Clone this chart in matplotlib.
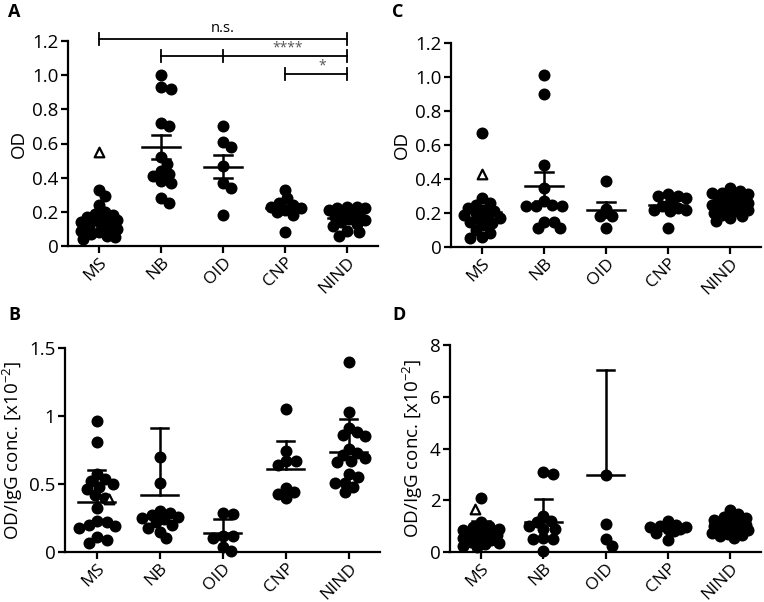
import numpy as np
import matplotlib
matplotlib.use("Agg")
from matplotlib import pyplot as plt

plt.rcParams["font.family"] = ["Open Sans", "DejaVu Sans"]
plt.rcParams["mathtext.default"] = "regular"

groups = ["MS", "NB", "OID", "CNP", "NIND"]

# panel A: OD
a_ms = [0.33, 0.29, 0.24, 0.20, 0.19, 0.18, 0.17, 0.17, 0.16, 0.15, 0.15, 0.14,
        0.13, 0.12, 0.11, 0.10, 0.09, 0.08, 0.07, 0.06, 0.05, 0.04]
a_nb = [1.00, 0.93, 0.92, 0.72, 0.70, 0.52, 0.48, 0.44, 0.42, 0.41, 0.38, 0.37,
        0.28, 0.25]
a_oid = [0.70, 0.61, 0.58, 0.47, 0.37, 0.34, 0.18]
a_cnp = [0.33, 0.28, 0.25, 0.24, 0.23, 0.22, 0.21, 0.20, 0.18, 0.08]
a_nind = [0.23, 0.23, 0.22, 0.22, 0.21, 0.20, 0.19, 0.18, 0.17, 0.16, 0.15,
          0.14, 0.13, 0.12, 0.09, 0.08, 0.06]
a_tri = 0.55
a_mean = [0.166, 0.578, 0.465, 0.224, 0.162]
a_err = [0.02, 0.07, 0.068, 0.015, 0.012]

# panel C: OD
c_ms = [0.67, 0.29, 0.26, 0.25, 0.23, 0.22, 0.21, 0.20, 0.19, 0.18, 0.17, 0.16,
        0.15, 0.14, 0.13, 0.10, 0.085, 0.06, 0.055]
c_nb = [1.01, 0.90, 0.48, 0.35, 0.27, 0.25, 0.24, 0.24, 0.24, 0.15, 0.15, 0.11,
        0.11]
c_oid = [0.39, 0.225, 0.185, 0.185, 0.11]
c_cnp = [0.31, 0.30, 0.30, 0.29, 0.26, 0.24, 0.23, 0.22, 0.22, 0.21, 0.11]
c_nind = [0.345, 0.33, 0.32, 0.32, 0.31, 0.30, 0.30, 0.29, 0.28, 0.27, 0.26,
          0.25, 0.25, 0.24, 0.23, 0.22, 0.22, 0.21, 0.20, 0.19, 0.18, 0.17,
          0.155]
c_tri = 0.43
c_mean = [0.207, 0.356, 0.219, 0.245, 0.25]
c_err = [0.02, 0.087, 0.045, 0.02, 0.012]

# panel B: OD/IgG conc.
b_ms = [0.96, 0.81, 0.57, 0.54, 0.52, 0.50, 0.48, 0.46, 0.42, 0.40, 0.32, 0.23,
        0.22, 0.20, 0.19, 0.18, 0.11, 0.09, 0.065]
b_nb = [0.70, 0.51, 0.30, 0.29, 0.27, 0.26, 0.25, 0.24, 0.22, 0.20, 0.18, 0.15,
        0.10]
b_oid = [0.29, 0.28, 0.12, 0.12, 0.10, 0.04, 0.01]
b_cnp = [1.05, 0.74, 0.67, 0.67, 0.64, 0.47, 0.44, 0.43, 0.40]
b_nind = [1.40, 1.03, 0.91, 0.88, 0.86, 0.85, 0.76, 0.73, 0.71, 0.69, 0.67,
          0.66, 0.57, 0.55, 0.51, 0.51, 0.48, 0.44]
b_tri = 0.39
b_mean = [0.369, 0.418, 0.139, 0.611, 0.738]
b_top = [0.605, 0.915, 0.245, 0.815, 0.975]

# panel D: OD/IgG conc.
d_ms = [2.1, 1.15, 1.0, 0.95, 0.9, 0.85, 0.8, 0.75, 0.7, 0.7, 0.65, 0.6, 0.55,
        0.5, 0.45, 0.4, 0.35, 0.3, 0.25, 0.2]
d_nb = [3.1, 3.0, 1.4, 1.2, 1.15, 1.0, 0.9, 0.9, 0.55, 0.5, 0.5, 0.02]
d_oid = [2.98, 1.09, 0.5, 0.22]
d_cnp = [1.2, 1.05, 1.0, 0.98, 0.95, 0.9, 0.88, 0.8, 0.75, 0.48]
d_nind = [1.62, 1.45, 1.35, 1.3, 1.25, 1.2, 1.15, 1.1, 1.1, 1.05, 1.0, 1.0,
          0.95, 0.95, 0.9, 0.9, 0.85, 0.8, 0.75, 0.7, 0.65, 0.6, 0.55]
d_tri = 1.65
d_mean = [0.76, 1.145, 2.96, 0.93, 1.02]
d_top = [1.21, 2.05, 7.03, 1.03, 1.1]

W, H = 764, 602
DOT = 12   # marker diameter, px
FS = 13.5


def swarm_x(ax, center, values, dist, max_px=19):
    """Spread points sideways (in pixels) so they pile up less."""
    pts = ax.transData.transform([(center, v) for v in values])
    xc = pts[0, 0]
    ys = pts[:, 1]
    xs = np.empty(len(values))
    placed = []
    step = 2.0
    cands = [0.0]
    k = 1
    while k * step <= max_px:
        cands += [k * step, -k * step]
        k += 1
    for i in np.argsort(-ys):
        y = ys[i]
        best, best_d = None, -1
        for c in cands:
            x = xc + c
            d = min([np.hypot(x - px, y - py) for px, py in placed] + [1e9])
            if d >= dist:
                best = x
                break
            if d > best_d + 0.5:
                best, best_d = x, d
        xs[i] = best
        placed.append((best, y))
    inv = ax.transData.inverted()
    return inv.transform(np.column_stack([xs, ys]))[:, 0]


def make_axes(left, right, top, bottom):
    ax = plt.gcf().add_axes([left / W, 1 - bottom / H, (right - left) / W,
                             (bottom - top) / H])
    for s in ("top", "right"):
        ax.spines[s].set_visible(False)
    for s in ("left", "bottom"):
        ax.spines[s].set_linewidth(1.6)
    ax.tick_params(width=1.6, length=5, labelsize=FS, pad=2)
    ax.tick_params(axis="x", labelsize=12.5, pad=1)
    ax.set_xlim(-0.5, 4.5)
    ax.set_xticks(range(5))
    ax.set_xticklabels(groups, rotation=45, ha="right",
                       rotation_mode="anchor")
    return ax


def draw_panel(ax, data, tri, tri_dx, means, lo, hi):
    for i, vals in enumerate(data):
        xs = swarm_x(ax, i, vals, DOT * 0.72)
        ax.scatter(xs, vals, s=(DOT * 0.72) ** 2, color="black", lw=0,
                   zorder=3, clip_on=False)
    ax.scatter([tri_dx], [tri], marker="^", s=48, facecolor="white",
               edgecolor="black", lw=1.6, zorder=4)
    for i in range(5):
        ax.plot([i - 0.3, i + 0.3], [means[i]] * 2, color="black", lw=1.8,
                zorder=5)
        ax.plot([i, i], [lo[i], hi[i]], color="black", lw=1.8, zorder=5)
        ax.plot([i - 0.14, i + 0.14], [hi[i]] * 2, color="black", lw=1.8,
                zorder=5)
        if lo[i] < means[i]:
            ax.plot([i - 0.14, i + 0.14], [lo[i]] * 2, color="black",
                    lw=1.8, zorder=5)


fig = plt.figure(figsize=(W / 100, H / 100), dpi=100)

od_ticks = [0, 0.2, 0.4, 0.6, 0.8, 1.0, 1.2]
od_labels = ["0", "0.2", "0.4", "0.6", "0.8", "1.0", "1.2"]
ratio_label = "OD/IgG conc. [x10$^{-2}$]"

# A
ax = make_axes(68, 378, 41, 246)
ax.set_ylim(0, 1.2)
ax.set_yticks(od_ticks, od_labels)
ax.set_ylabel("OD", fontsize=FS, labelpad=3)
draw_panel(ax, [a_ms, a_nb, a_oid, a_cnp, a_nind], a_tri, 0, a_mean,
           [m - e for m, e in zip(a_mean, a_err)],
           [m + e for m, e in zip(a_mean, a_err)])
for x0, x1, y, mids in [(0, 4, 1.21, []), (1, 4, 1.11, [2]), (3, 4, 1.007, [])]:
    ax.plot([x0, x1], [y, y], color="black", lw=1.3, clip_on=False)
    for xt in [x0, x1] + mids:
        ax.plot([xt, xt], [y - 0.035, y + 0.035], color="black", lw=1.3,
                clip_on=False)
ax.text(2, 1.23, "n.s.", ha="center", va="bottom", fontsize=10.5)
ax.text(3.05, 1.115, "****", ha="center", va="bottom", fontsize=10,
        color="#555555")
ax.text(3.6, 1.01, "*", ha="center", va="bottom", fontsize=10,
        color="#555555")

# C
ax = make_axes(451, 761, 43, 247)
ax.set_ylim(0, 1.2)
ax.set_yticks(od_ticks, od_labels)
ax.set_ylabel("OD", fontsize=FS, labelpad=3)
draw_panel(ax, [c_ms, c_nb, c_oid, c_cnp, c_nind], c_tri, 0, c_mean,
           [m - e for m, e in zip(c_mean, c_err)],
           [m + e for m, e in zip(c_mean, c_err)])

# B
ax = make_axes(65, 380, 348, 552)
ax.set_ylim(0, 1.5)
ax.set_yticks([0, 0.5, 1, 1.5], ["0", "0.5", "1", "1.5"])
ax.set_ylabel(ratio_label, fontsize=FS, labelpad=3)
draw_panel(ax, [b_ms, b_nb, b_oid, b_cnp, b_nind], b_tri, 0.2, b_mean,
           b_mean, b_top)

# D
ax = make_axes(450, 761, 345, 552)
ax.set_ylim(0, 8)
ax.set_yticks([0, 2, 4, 6, 8], ["0", "2", "4", "6", "8"])
ax.set_ylabel(ratio_label, fontsize=FS, labelpad=3)
draw_panel(ax, [d_ms, d_nb, d_oid, d_cnp, d_nind], d_tri, -0.1, d_mean,
           d_mean, d_top)

for lab, x, y in [("A", 8, 3), ("C", 392, 3), ("B", 8, 306), ("D", 392, 306)]:
    fig.text(x / W, 1 - y / H, lab, fontsize=13, fontweight="bold",
             va="top", ha="left")

fig.savefig("out.png", dpi=100)
